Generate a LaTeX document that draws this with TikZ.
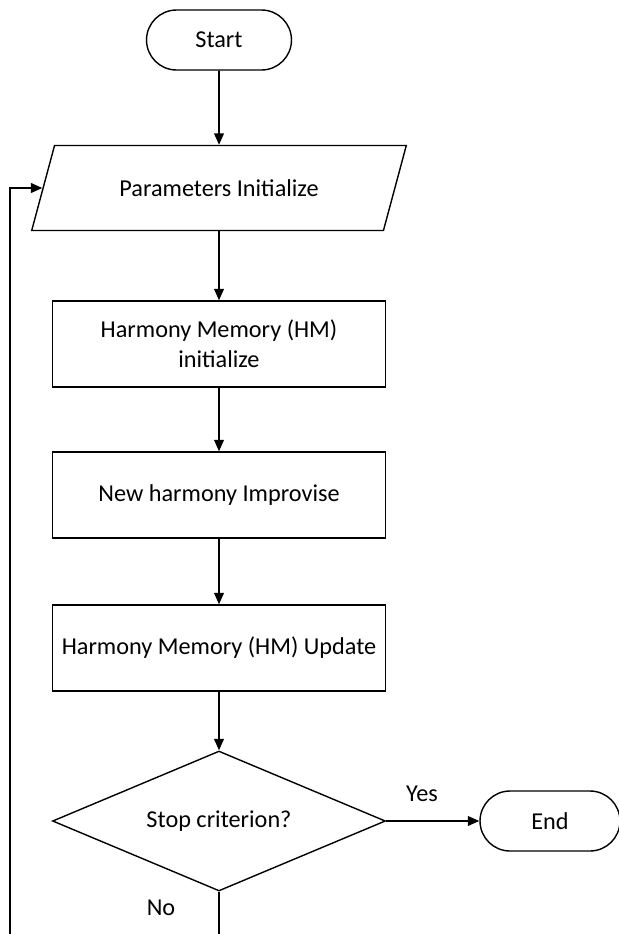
\documentclass[tikz,border=0pt]{standalone}
\usepackage{fontspec}
\setmainfont{Carlito}
\usepackage{tikz}
\usetikzlibrary{shapes.geometric,arrows.meta}

\begin{document}
\begin{tikzpicture}[x=0.02cm,y=-0.02cm,
	every node/.style={font=\fontsize{13.8}{17}\selectfont},
	terminal/.style={draw,rounded corners=0.6cm,minimum width=2.8cm,minimum height=1.2cm},
	process/.style={draw,align=center,minimum width=6.66cm,minimum height=1.72cm},
	inout/.style={draw,trapezium,trapezium left angle=63,trapezium right angle=117,trapezium stretches=true,minimum width=7.5cm,minimum height=1.7cm},
	decision/.style={draw,diamond,inner sep=0pt,aspect=2.38,minimum width=6.66cm,minimum height=2.8cm},
	flow/.style={line width=1pt,-{Triangle[width=5.5pt,length=6.5pt]}},
	line width=0.8pt]
\useasboundingbox (0,0) rectangle (619,934);
\clip (0,0) rectangle (619,934);
\node[terminal,minimum width=2.9cm] (start) at (219,40) {Start};
\node[inout] (par) at (219,188) {Parameters Initialize};
\node[process] (hminit) at (219,344) {Harmony Memory (HM)\\initialize};
\node[process] (improv) at (219,495) {New harmony Improvise};
\node[process] (hmupd) at (219,648) {Harmony Memory (HM) Update};
\node[decision] (stop) at (219,821) {Stop criterion?};
\node[terminal] (end) at (550,821) {End};
\node (yes) at (422,794) {Yes};
\node (no) at (161,908) {No};
\coordinate (loop) at (10,960);

\draw[flow] (start) -- (par);
\draw[flow] (par) -- (hminit);
\draw[flow] (hminit) -- (improv);
\draw[flow] (improv) -- (hmupd);
\draw[flow] (hmupd) -- (stop);
\draw[flow] (stop) -- (end);
\draw[flow] (stop.south) |- (loop) |- (par.west);
\end{tikzpicture}
\end{document}
